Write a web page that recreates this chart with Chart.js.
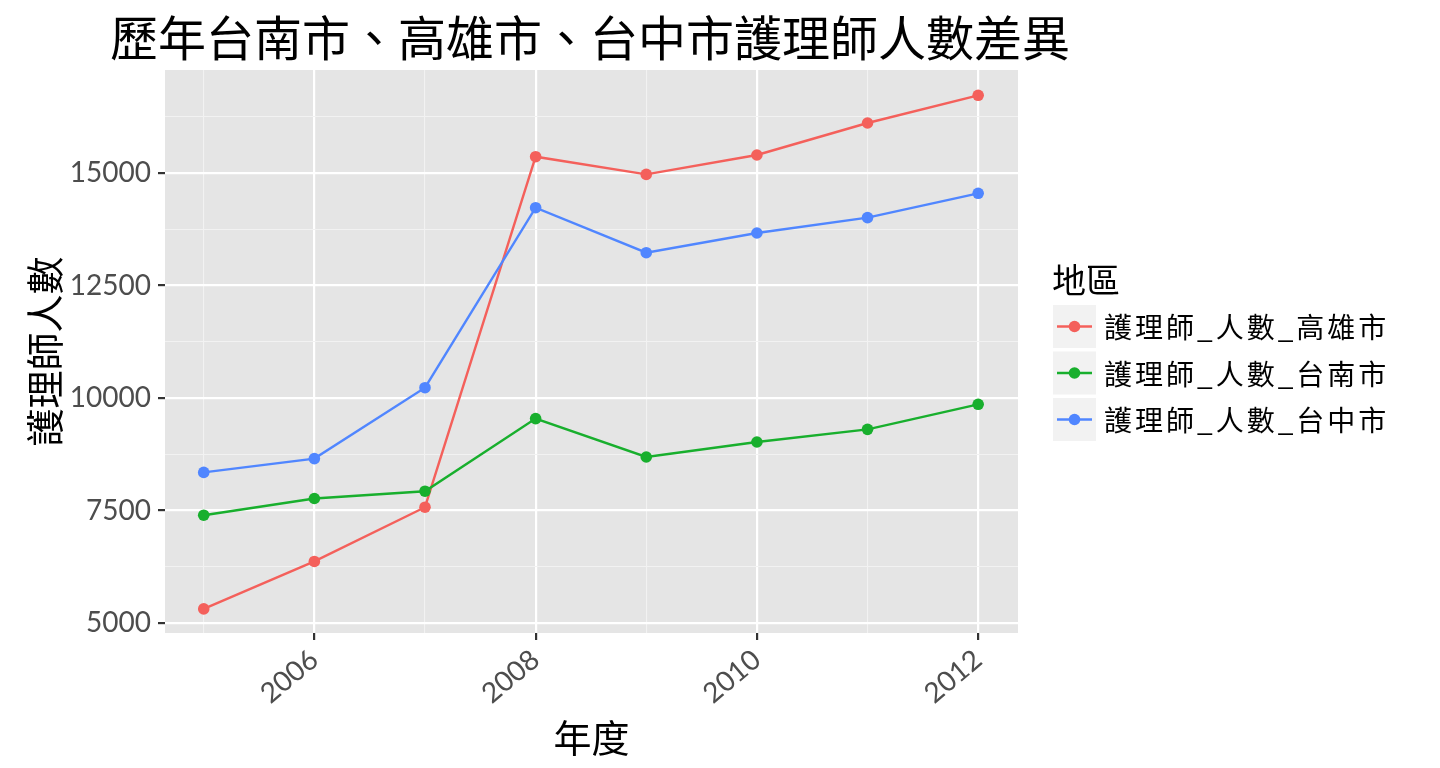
<!DOCTYPE html>
<html>
<head>
<meta charset="utf-8">
<title>歷年台南市、高雄市、台中市護理師人數差異</title>
<script src="https://cdn.jsdelivr.net/npm/chart.js@4.4.0/dist/chart.umd.min.js"></script>
<style>
  html, body { margin: 0; padding: 0; background: #ffffff; }
  #chart { display: block; }
</style>
</head>
<body>
<canvas id="chart" width="1440" height="768"></canvas>
<script>
const years = [2005, 2006, 2007, 2008, 2009, 2010, 2011, 2012];
const kaohsiung = [5314, 6368, 7573, 15362, 14969, 15400, 16111, 16727];
const tainan = [7396, 7767, 7929, 9542, 8689, 9022, 9304, 9860];
const taichung = [8347, 8654, 10229, 14229, 13229, 13667, 14009, 14549];
const seriesNames = ["護理師_人數_高雄市", "護理師_人數_台南市", "護理師_人數_台中市"];
const seriesColors = ["#F4605B", "#18AF2D", "#5086FF"];
const xLabelYears = [2006, 2008, 2010, 2012];
const yMajorTicks = [5000, 7500, 10000, 12500, 15000];
const yMinorTicks = [6250, 8750, 11250, 13750, 16250];

const cjk = "'Noto Sans CJK TC', 'Noto Sans CJK SC', sans-serif";
const tickFont = { family: "Lato", size: 28 };

// grey panel behind the grid, like ggplot
const panelBackground = {
  id: "panelBackground",
  beforeDraw(chart) {
    const { ctx, chartArea: a } = chart;
    ctx.save();
    ctx.fillStyle = "#E5E5E5";
    ctx.fillRect(a.left, a.top, a.right - a.left, a.bottom - a.top);
    ctx.restore();
  }
};

const plotTitle = {
  id: "plotTitle",
  afterDraw(chart) {
    const ctx = chart.ctx;
    ctx.save();
    ctx.fillStyle = "#000000";
    ctx.font = "48px " + cjk;
    ctx.textBaseline = "middle";
    ctx.fillText("歷年台南市、高雄市、台中市護理師人數差異", 110, 38);
    ctx.restore();
  }
};

// legend drawn by hand to get the ggplot key boxes
const ggLegend = {
  id: "ggLegend",
  afterDraw(chart) {
    const ctx = chart.ctx;
    ctx.save();
    ctx.textBaseline = "middle";
    ctx.fillStyle = "#000000";
    ctx.font = "34px " + cjk;
    ctx.fillText("地區", 1052, 280);
    chart.data.datasets.forEach((ds, i) => {
      const top = 305 + i * 46.5;
      const mid = top + 21.5;
      ctx.fillStyle = "#F2F2F2";
      ctx.fillRect(1053, top, 43, 43);
      ctx.strokeStyle = ds.borderColor;
      ctx.lineWidth = 2.4;
      ctx.beginPath();
      ctx.moveTo(1057, mid);
      ctx.lineTo(1092, mid);
      ctx.stroke();
      ctx.fillStyle = ds.borderColor;
      ctx.beginPath();
      ctx.arc(1074.5, mid, 5.8, 0, Math.PI * 2);
      ctx.fill();
      ctx.fillStyle = "#000000";
      ctx.font = "28px " + cjk;
      ctx.letterSpacing = "3px";
      ctx.fillText(ds.label, 1104, mid + 1);
      ctx.letterSpacing = "0px";
    });
    ctx.restore();
  }
};

const datasets = [kaohsiung, tainan, taichung].map((vals, i) => ({
  label: seriesNames[i],
  data: years.map((yr, j) => ({ x: yr, y: vals[j] })),
  borderColor: seriesColors[i],
  backgroundColor: seriesColors[i],
  borderWidth: 2.4,
  pointRadius: 5.8,
  pointBorderWidth: 0,
  pointHoverRadius: 5.8,
  tension: 0,
  clip: false,
  order: 3 - i
}));

const isXMajor = (c) => c.tick && xLabelYears.includes(c.tick.value);
const isYMajor = (c) => c.tick && yMajorTicks.includes(c.tick.value);

new Chart(document.getElementById("chart").getContext("2d"), {
  type: "line",
  data: { datasets: datasets },
  options: {
    responsive: false,
    animation: false,
    devicePixelRatio: 1,
    layout: { padding: { top: 70, right: 422, left: 0, bottom: 0 } },
    plugins: {
      legend: { display: false },
      title: { display: false },
      tooltip: { enabled: false }
    },
    scales: {
      x: {
        type: "linear",
        min: 2004.65,
        max: 2012.36,
        afterBuildTicks(axis) {
          axis.ticks = years.map((v) => ({ value: v }));
        },
        afterFit(axis) {
          axis.height = 135;
        },
        border: { display: false },
        grid: {
          color: (c) => (isXMajor(c) ? "#FFFFFF" : "#F2F2F2"),
          lineWidth: (c) => (isXMajor(c) ? 2.2 : 1.1),
          tickColor: (c) => (isXMajor(c) ? "#333333" : "rgba(0,0,0,0)"),
          tickLength: 7,
          tickWidth: 2.2
        },
        ticks: {
          autoSkip: false,
          minRotation: 40,
          maxRotation: 40,
          padding: 3,
          color: "#4D4D4D",
          font: tickFont,
          callback: (v) => (xLabelYears.includes(v) ? String(v) : "")
        },
        title: {
          display: true,
          text: "年度",
          color: "#000000",
          font: { family: cjk, size: 38 },
          padding: { top: 0, bottom: 8 }
        }
      },
      y: {
        type: "linear",
        min: 4778,
        max: 17289,
        afterBuildTicks(axis) {
          axis.ticks = yMajorTicks.concat(yMinorTicks)
            .sort((a, b) => a - b)
            .map((v) => ({ value: v }));
        },
        afterFit(axis) {
          axis.width = 165;
        },
        border: { display: false },
        grid: {
          color: (c) => (isYMajor(c) ? "#FFFFFF" : "#F2F2F2"),
          lineWidth: (c) => (isYMajor(c) ? 2.2 : 1.1),
          tickColor: (c) => (isYMajor(c) ? "#333333" : "rgba(0,0,0,0)"),
          tickLength: 7,
          tickWidth: 2.2
        },
        ticks: {
          padding: 7,
          color: "#4D4D4D",
          font: tickFont,
          callback: (v) => (yMajorTicks.includes(v) ? String(v) : "")
        },
        title: {
          display: true,
          text: "護理師人數",
          color: "#000000",
          font: { family: cjk, size: 38 },
          padding: { top: 22, bottom: 0 }
        }
      }
    }
  },
  plugins: [panelBackground, plotTitle, ggLegend]
});
</script>
</body>
</html>
